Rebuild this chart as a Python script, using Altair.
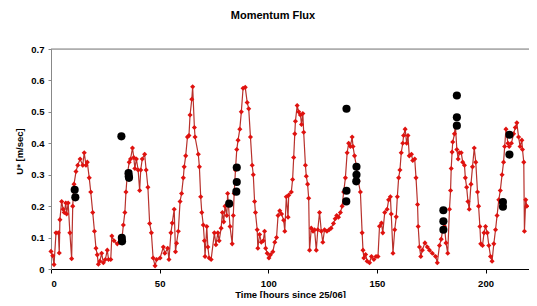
import altair as alt
import pandas as pd

# Red series: U* (m/sec) vs time (hours since 25/06)
t_red = [0, 0.8, 1.4, 2.3, 3.4, 3.8, 4.1, 4.9, 5.6, 6.1, 6.8, 7.2, 7.9, 8.7, 9.5, 10.0, 10.6, 11.5, 12.3, 13.4,
         14.6, 15.3, 16.1, 16.7, 17.6, 18.3, 19.2, 20.0, 20.7, 21.3, 21.8, 22.5, 23.3, 24.1, 25.0, 25.9, 26.5, 27.5,
         28.0, 29.0, 30.5, 31.5, 32.5, 33.3, 34.0, 34.5, 35.1, 36.0, 36.6, 37.5, 38.1, 38.6, 39.3, 40.1, 40.8, 41.3,
         42.0, 43.1, 43.8, 44.6, 45.4, 46.2, 47.0, 47.9, 48.6, 50.2, 51.7,
         52.4, 53.7, 54.3, 55.2, 55.8, 56.7, 57.3, 57.8, 58.6, 59.4, 60.1, 60.9, 61.3, 62.0, 62.8, 63.5, 64.0, 64.8,
         65.2, 66.0, 66.3, 67.8, 68.3, 68.9, 69.4, 70.1, 70.6, 70.9, 71.7, 72.2, 72.8, 73.7, 75.2, 75.9, 76.8, 77.4,
         78.3, 78.9, 79.5, 80.1, 80.9, 81.3, 82.4, 83.4, 83.9, 84.3, 84.9, 85.5, 86.1, 86.9, 87.6, 88.4,
         89.4, 90.3, 91.0, 91.8, 92.6, 93.1, 93.7, 94.1, 94.9, 95.2, 96.0, 96.8, 97.7, 98.3, 98.8, 99.5, 100.3, 101.0,
         102.1, 103.0, 103.8, 104.5, 105.3, 106.1, 107.1, 107.6, 108.3, 109.1, 109.4, 110.6, 111.2, 111.7, 112.2,
         112.5, 113.3, 114.0, 114.8, 115.3, 115.9, 116.3, 117.1, 117.5, 118.1, 118.6, 119.0, 119.8, 120.6, 121.3,
         122.1, 122.8, 123.6, 124.4, 125.1, 125.9, 127.0, 128.0, 128.9, 130.0, 130.8, 131.5, 132.3,
         133.2, 134.0, 134.7, 135.5, 136.3, 137.0, 137.8, 138.6, 139.0, 139.7, 140.5, 141.4, 142.4, 143.2, 143.6,
         144.0, 144.8, 145.5, 146.6, 147.5, 148.6, 149.6, 150.5, 151.2, 152.1, 152.7, 153.6, 154.7, 155.4, 156.2,
         156.6, 157.4, 158.2, 158.9, 159.4, 160.0, 160.6, 161.2, 161.9, 162.3, 163.0, 163.7, 164.3, 164.9, 165.9,
         166.5, 167.4, 168.0, 168.7, 169.0, 169.6, 170.2, 170.9, 172.1, 173.2, 174.2, 175.5, 177.0, 177.8,
         178.8, 179.6, 180.3, 181.1, 181.8, 182.6, 183.4, 183.9, 184.2, 184.6, 184.9, 185.7, 186.1, 186.8, 187.4,
         188.0, 188.8, 189.5, 190.3, 190.7, 191.3, 191.9, 192.5, 193.3, 194.0, 194.8, 195.5, 196.3, 196.8, 197.4,
         197.8, 198.6, 199.3, 200.0, 200.8, 201.5, 202.3, 203.0, 203.8, 204.6, 205.3, 206.1, 206.8, 207.6, 208.3,
         208.8, 209.4, 210.3, 210.9, 211.9, 212.9, 213.7, 214.4, 215.2, 215.9, 216.7, 217.0, 217.6, 217.9, 218.5,
         219.0]
u_red = [0.056, 0.042, 0.014, 0.115, 0.115, 0.051, 0.157, 0.215, 0.19, 0.18, 0.21, 0.175, 0.21, 0.115, 0.033, 0.2,
         0.27, 0.31, 0.33, 0.35, 0.33, 0.37, 0.33, 0.34, 0.29, 0.245, 0.18, 0.12, 0.066, 0.045, 0.015, 0.025, 0.05,
         0.02, 0.03, 0.06, 0.03, 0.03,
         0.105, 0.09, 0.08, 0.085, 0.085, 0.14, 0.18, 0.245, 0.3, 0.34, 0.35, 0.385, 0.355, 0.32, 0.35, 0.315, 0.25,
         0.315, 0.35, 0.365, 0.315, 0.26, 0.145, 0.115, 0.035, 0.01, 0.03, 0.035, 0.07,
         0.05, 0.066, 0.03, 0.115, 0.146, 0.19, 0.055, 0.082, 0.12, 0.215, 0.24, 0.29, 0.325, 0.36, 0.42, 0.425,
         0.49, 0.54, 0.58, 0.45, 0.42, 0.365, 0.325, 0.23, 0.18, 0.14, 0.09, 0.04, 0.135, 0.07, 0.035, 0.03, 0.115,
         0.077, 0.115, 0.09, 0.13, 0.18, 0.15, 0.2, 0.17, 0.24, 0.135, 0.08, 0.17, 0.24, 0.315, 0.38, 0.41, 0.445,
         0.5, 0.575,
         0.578, 0.53, 0.51, 0.42, 0.33, 0.3, 0.215, 0.18, 0.125, 0.066, 0.11, 0.085, 0.09, 0.12, 0.066, 0.05, 0.035,
         0.045, 0.055, 0.085, 0.1, 0.17, 0.185, 0.175, 0.155, 0.12, 0.23, 0.165, 0.235, 0.245, 0.285, 0.355, 0.43,
         0.47, 0.52, 0.5, 0.49, 0.46, 0.495, 0.435, 0.33, 0.295, 0.27, 0.225, 0.06, 0.13, 0.12, 0.125, 0.06, 0.125,
         0.18, 0.12, 0.085, 0.125, 0.12, 0.125, 0.13, 0.145, 0.16, 0.17, 0.165,
         0.18, 0.2, 0.245, 0.29, 0.37, 0.4, 0.39, 0.42, 0.39, 0.36, 0.33, 0.28, 0.245, 0.115, 0.06, 0.035, 0.046,
         0.025, 0.02, 0.04, 0.03, 0.04, 0.04, 0.136, 0.146, 0.115, 0.18, 0.19, 0.22, 0.23, 0.175, 0.05, 0.125,
         0.166, 0.23, 0.29, 0.315, 0.37, 0.4, 0.425, 0.445, 0.4, 0.425, 0.36, 0.365, 0.345, 0.35, 0.29, 0.205,
         0.135, 0.07, 0.04, 0.06, 0.083, 0.07, 0.06, 0.05, 0.04, 0.02,
         0.075, 0.095, 0.125, 0.136, 0.083, 0.05, 0.19, 0.25, 0.32, 0.372, 0.404, 0.43, 0.46, 0.38, 0.35, 0.37,
         0.37, 0.34, 0.33, 0.29, 0.26, 0.215, 0.19, 0.27, 0.325, 0.385, 0.34, 0.245, 0.2, 0.135, 0.08, 0.075,
         0.115, 0.135, 0.115, 0.075, 0.04, 0.025, 0.08, 0.125, 0.17, 0.22, 0.25, 0.3, 0.34, 0.39, 0.445, 0.4,
         0.39, 0.4, 0.43, 0.45, 0.465, 0.42, 0.39, 0.41, 0.38, 0.34, 0.12, 0.22, 0.2]

# Black series (large dots)
t_black = [10.9, 11.2, 32.4, 32.6, 32.7, 35.7, 35.8, 35.9, 82.0, 85.5, 85.5, 85.3, 136.0, 136.0, 135.9,
           140.6, 140.6, 140.5, 186.8, 186.8, 186.8, 180.6, 180.6, 180.6, 208.0, 208.0, 211.0, 211.0]
u_black = [0.252, 0.228, 0.422, 0.099, 0.088, 0.305, 0.295, 0.29, 0.208, 0.323, 0.277, 0.246, 0.51, 0.249, 0.215,
           0.325, 0.3, 0.279, 0.552, 0.483, 0.456, 0.187, 0.152, 0.125, 0.213, 0.198, 0.427, 0.364]

x_ticks = [0, 50, 100, 150, 200]
y_ticks = [0, 0.1, 0.2, 0.3, 0.4, 0.5, 0.6, 0.7]
y_top = [0.7]

red = pd.DataFrame({"t": t_red, "u": u_red})
black = pd.DataFrame({"t": t_black, "u": u_black})
top_df = pd.DataFrame({"u": y_top})

FONT = "Liberation Sans"

x_enc = alt.X("t:Q", scale=alt.Scale(domain=[0, 220], nice=False, zero=False),
              axis=alt.Axis(values=x_ticks, title="Time [hours since 25/06]", grid=False,
                            domainColor="black", tickColor="black", tickSize=4, labelPadding=5,
                            labelOverlap=False,
                            labelFont=FONT, labelFontSize=9.5, labelFontWeight="bold", labelColor="black",
                            titleFont=FONT, titleFontSize=9.5, titleFontWeight="bold", titleColor="black",
                            titleBaseline="middle", titleY=25))
y_enc = alt.Y("u:Q", scale=alt.Scale(domain=[0, 0.7], nice=False),
              axis=alt.Axis(values=y_ticks, format=".1~f", title="U* [m/sec]", grid=False,
                            domainColor="#888888", tickColor="#888888", tickSize=3, labelPadding=4,
                            labelOverlap=False, labelFlush=False,
                            labelFont=FONT, labelFontSize=9.5, labelFontWeight="bold", labelColor="black",
                            titleFont=FONT, titleFontSize=9.5, titleFontWeight="bold", titleColor="black",
                            titleBaseline="middle", titleX=-32, titleY=102))

line = alt.Chart(red).mark_line(color="#b8312c", strokeWidth=1.2).encode(x=x_enc, y=y_enc)
pts = alt.Chart(red).mark_point(shape="diamond", filled=True, color="#e0120f", size=26, opacity=1).encode(x=x_enc, y=y_enc)
dots = alt.Chart(black).mark_circle(color="black", size=66, opacity=1).encode(x=x_enc, y=y_enc)
top = alt.Chart(top_df).mark_rule(color="#808080", strokeWidth=1).encode(y=y_enc)

chart = alt.layer(top, line, pts, dots).properties(
    width=478, height=220,
    title=alt.TitleParams("Momentum Flux", font=FONT, fontSize=11, fontWeight="bold", color="black",
                          anchor="middle", baseline="alphabetic", offset=14, dx=-17),
    autosize=alt.AutoSizeParams(type="none"),
    padding={"left": 43, "top": 41, "right": 0, "bottom": 29},
).configure_view(stroke=None).configure(background="white")

chart.save("out.html", embed_options={"renderer": "svg", "actions": False})
